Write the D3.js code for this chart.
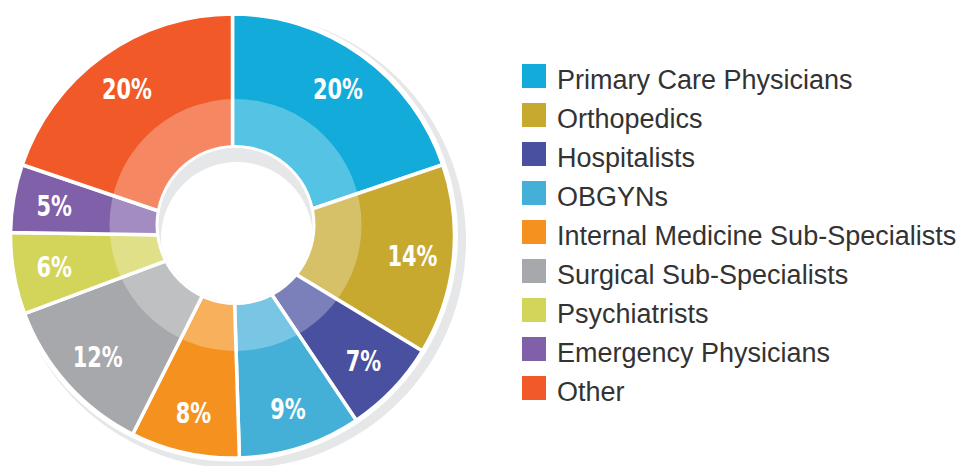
<!DOCTYPE html>
<html>
<head>
<meta charset="utf-8">
<script src="https://cdn.jsdelivr.net/npm/d3@7"></script>
<style>
  html, body { margin: 0; padding: 0; background: #fff; }
  svg { display: block; }
</style>
</head>
<body>
<div id="chart"></div>
<script>
// physician mix, clockwise from 12 o'clock
const categories = [
	"Primary Care Physicians", "Orthopedics", "Hospitalists", "OBGYNs",
	"Internal Medicine Sub-Specialists", "Surgical Sub-Specialists",
	"Psychiatrists", "Emergency Physicians", "Other"
];
const shares = [20, 14, 7, 9, 8, 12, 6, 5, 20];
const palette = ["#13acda", "#c8a92f", "#4a50a0", "#44b0d8", "#f5921f",
	"#a7a8ab", "#d3d55b", "#8060a9", "#f15a28"];

const width = 970;
const height = 466;

// donut geometry
const cx = 232.5, cy = 236;
const outerR = 222;
const holeX = 235.5, holeY = 225; // the hole sits a bit high
const holeR = 80;
const bandR = 126;

const data = categories.map((c, i) => ({ name: c, value: shares[i] }));

const color = d3.scaleOrdinal(categories, palette);

const svg = d3.select("#chart").append("svg")
	.attr("width", width)
	.attr("height", height)
	.attr("viewBox", [0, 0, width, height]);

// drop shadow ring behind the donut
svg.append("circle")
	.attr("cx", cx + 5.5)
	.attr("cy", cy + 4.5)
	.attr("r", outerR + 6)
	.attr("fill", "#e6e7e8");

svg.append("circle")
	.attr("cx", cx)
	.attr("cy", cy)
	.attr("r", outerR + 3.5)
	.attr("fill", "#fff");

const pie = d3.pie().sort(null).value(d => d.value);
const arcs = pie(data);

const arc = d3.arc().innerRadius(0).outerRadius(outerR);
const labelArc = d3.arc().innerRadius(181).outerRadius(181);

const g = svg.append("g").attr("transform", `translate(${cx},${cy})`);

g.selectAll("path.slice")
	.data(arcs)
	.join("path")
	.attr("class", "slice")
	.attr("d", arc)
	.attr("fill", d => color(d.data.name))
	.attr("stroke", "#fff")
	.attr("stroke-width", 3.5)
	.attr("stroke-linejoin", "round");

// lighter inner band
svg.append("circle")
	.attr("cx", holeX)
	.attr("cy", holeY)
	.attr("r", bandR)
	.attr("fill", "#fff")
	.attr("fill-opacity", 0.28);

// hole: white rim, grey inner shadow, white centre
svg.append("circle")
	.attr("cx", holeX)
	.attr("cy", holeY)
	.attr("r", holeR)
	.attr("fill", "#fff");

svg.append("clipPath")
	.attr("id", "hole-clip")
	.append("circle")
	.attr("cx", holeX)
	.attr("cy", holeY)
	.attr("r", holeR - 3);

svg.append("circle")
	.attr("cx", holeX)
	.attr("cy", holeY)
	.attr("r", holeR - 3)
	.attr("fill", "#e6e7e8");

svg.append("circle")
	.attr("clip-path", "url(#hole-clip)")
	.attr("cx", holeX + 1.5)
	.attr("cy", holeY + 13)
	.attr("r", holeR - 4)
	.attr("fill", "#fff");

// percentage labels (squeezed to mimic a condensed face)
g.selectAll("text.pct")
	.data(arcs)
	.join("text")
	.attr("class", "pct")
	.attr("transform", d => `translate(${labelArc.centroid(d)}) scale(0.8,1)`)
	.attr("text-anchor", "middle")
	.attr("dy", "0.36em")
	.attr("fill", "#fff")
	.attr("font-family", "'DejaVu Sans Condensed', 'DejaVu Sans', sans-serif")
	.attr("font-stretch", "condensed")
	.attr("font-weight", "bold")
	.attr("font-size", "29px")
	.text(d => `${d.data.value}%`);

// legend
const legendY = d3.scaleBand()
	.domain(categories)
	.range([64, 64 + 39 * categories.length]);

const legend = svg.append("g")
	.selectAll("g")
	.data(categories)
	.join("g")
	.attr("transform", d => `translate(522,${legendY(d)})`);

legend.append("rect")
	.attr("width", 24)
	.attr("height", 24)
	.attr("fill", d => color(d));

legend.append("text")
	.attr("x", 35)
	.attr("y", 24.5)
	.attr("fill", "#333")
	.attr("font-family", "'Liberation Sans', Arial, sans-serif")
	.attr("font-size", "27px")
	.text(d => d);
</script>
</body>
</html>
